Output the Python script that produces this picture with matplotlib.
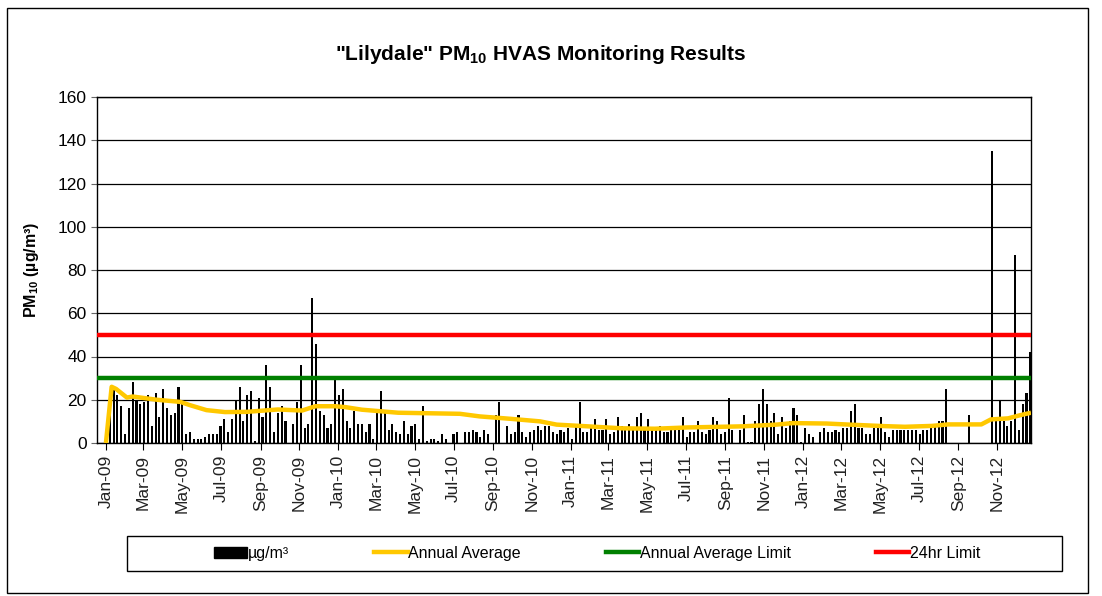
import numpy as np
import pandas as pd
import matplotlib
matplotlib.use("Agg")
import matplotlib.pyplot as plt
import matplotlib.dates as mdates
from matplotlib.patches import Patch, Rectangle
from matplotlib.lines import Line2D

plt.rcParams['font.family'] = ['Liberation Sans', 'DejaVu Sans']
plt.rcParams['mathtext.fontset'] = 'custom'
plt.rcParams['mathtext.rm'] = 'Liberation Sans'
plt.rcParams['mathtext.bf'] = 'Liberation Sans:bold'

# HVAS samples, one every 6 days from 1 Jan 2009
first_sample = '2009-01-01'
sample_every_days = 6
pm10 = [0,
        24, 26, 22, 17, 4, 16, 28, 20, 18, 19, 22, 8, 23, 12, 25, 16, 13, 14, 26, 18,
        4, 5, 2, 2, 2, 3, 4, 4, 4, 8, 11, 5, 11, 20, 26, 10, 22,
        24, 1, 21, 12, 36, 26, 5, 14, 17, 10, 0, 9, 19, 36, 7, 9, 67, 46, 15, 13, 7, 9,
        29, 22, 25, 10, 7, 15, 9, 9, 5, 9, 2, 14, 24, 14, 6, 9, 5, 4, 10,
        4, 8, 9, 2, 17, 1, 2, 2, 1, 4, 2, 0, 4, 5, 0, 5, 5, 6, 5, 3,
        6, 4, 0, 13, 19, 0, 8, 4, 5, 13, 5, 3, 5, 6, 8, 6, 8, 8, 5, 4,
        6, 5, 7, 2, 9, 19, 5, 5, 7, 11, 6, 6, 11, 4, 5, 12, 8, 6, 9, 7,
        12, 14, 6, 11, 7, 6, 8, 5, 5, 6, 6, 6, 12, 3, 5, 5, 10, 5, 4, 6, 12,
        10, 4, 5, 21, 6, 0, 6, 13, 0.5, 0.5, 10, 18, 25, 18, 10, 14, 4, 12, 7, 10,
        16, 13, 0.5, 7, 4, 3, 0, 5, 7, 5, 5, 6, 5, 7, 7, 15, 18, 7, 7, 4,
        4, 7, 7, 12, 5, 3, 6, 6, 6, 6, 6, 6, 6, 4, 6, 6, 9, 9, 10, 10,
        25, 0, 0, 0, 0, 0, 13, 0, 0, 0, 0, 0, 135, 10, 20, 10, 8, 10, 87, 6,
        18, 23, 42]

# annual average
avg_dates = ['2009-01-01', '2009-01-10', '2009-01-17', '2009-02-03', '2009-02-12',
             '2009-03-22', '2009-04-28', '2009-05-13', '2009-06-08', '2009-07-07',
             '2009-08-10', '2009-09-28', '2009-11-05', '2009-11-26', '2009-12-27',
             '2010-01-12', '2010-02-07', '2010-04-05', '2010-07-11', '2010-08-11',
             '2010-09-28', '2010-11-14', '2010-12-10', '2011-01-28', '2011-03-22',
             '2011-05-13', '2011-07-04', '2011-09-28', '2011-11-20', '2011-12-16',
             '2012-02-07', '2012-03-14', '2012-05-08', '2012-06-09', '2012-07-21',
             '2012-08-16', '2012-10-07', '2012-10-22', '2012-11-18', '2012-12-09',
             '2012-12-24']
avg_values = [0, 26, 25, 21, 21.5,
              20, 19, 17.5, 15.2, 14.3,
              14.4, 15.5, 15, 17, 17,
              16.6, 15.4, 14, 13.5, 12.3,
              11.2, 10, 8.5, 7.7, 6.8,
              6.6, 7.2, 7.7, 8.5, 9.2,
              9, 8.5, 7.8, 7.5, 7.9,
              8.6, 8.6, 10.9, 11.4, 13,
              14]

annual_limit = 30
daily_limit = 50

dates = pd.date_range(first_sample, periods=len(pm10), freq=f'{sample_every_days}D')
avg_dates = pd.to_datetime(avg_dates)
x_start = pd.Timestamp('2008-12-18')
x_end = pd.Timestamp('2012-12-24')

fig = plt.figure(figsize=(11.02, 5.96), dpi=100)
ax = fig.add_axes([97/1102, 1-443/596, (1031-97)/1102, (443-97)/596])

ax.bar(dates, pm10, width=3.3, color='black', zorder=3)
ax.plot(avg_dates, avg_values, color='#FFC800', lw=3.2, zorder=4, solid_capstyle='butt')
ax.plot([x_start, x_end], [annual_limit, annual_limit], color='#008000', lw=3.2, zorder=4)
ax.plot([x_start, x_end], [daily_limit, daily_limit], color='#FF0000', lw=3.2, zorder=4)

ax.set_xlim(x_start, x_end)
ax.set_ylim(0, 160)
ax.set_yticks(range(0, 161, 20))
ax.yaxis.grid(True, color='black', lw=0.9, zorder=0)
ax.set_axisbelow(True)

ax.xaxis.set_major_locator(mdates.MonthLocator(bymonth=[1, 3, 5, 7, 9, 11]))
ax.xaxis.set_major_formatter(mdates.DateFormatter('%b-%y'))
ax.tick_params(axis='x', rotation=90, labelsize=12.5, length=5, colors='black', labelcolor='#222222')
ax.tick_params(axis='y', labelsize=12.5, length=4, color='#666666')
for s in ax.spines.values():
    s.set_color('black')
    s.set_linewidth(1)

ax.set_ylabel(r'PM$_{\mathbf{10}}$ (µg/m³)', fontsize=11.5, fontweight='bold', labelpad=12)
fig.text(541/1102, 1-55/596, r'"Lilydale" PM$_{\mathbf{10}}$ HVAS Monitoring Results',
         ha='center', va='center', fontsize=15, fontweight='bold')

# legend frame drawn separately, entries centred inside it
fig.patches.append(Rectangle((127/1102, 1-571/596), 935/1102, 35/596,
                             transform=fig.transFigure, fill=False, edgecolor='black', lw=1))
handles = [Patch(facecolor='black', edgecolor='black'),
           Line2D([], [], color='#FFC800', lw=3.2),
           Line2D([], [], color='#008000', lw=3.2),
           Line2D([], [], color='#FF0000', lw=3.2)]
labels = ['µg/m³', 'Annual Average', 'Annual Average Limit', '24hr Limit']
fig.legend(handles, labels, loc='center', ncol=4,
           bbox_to_anchor=(597/1102, 1-553.5/596),
           fontsize=11.5, frameon=False, handlelength=2.1,
           handletextpad=0.05, columnspacing=5.3)

fig.patches.append(Rectangle((7/1102, 3/596), (1088-7)/1102, (593-8)/596,
                             transform=fig.transFigure, fill=False, edgecolor='black', lw=1))

fig.savefig('out.png', dpi=100)
